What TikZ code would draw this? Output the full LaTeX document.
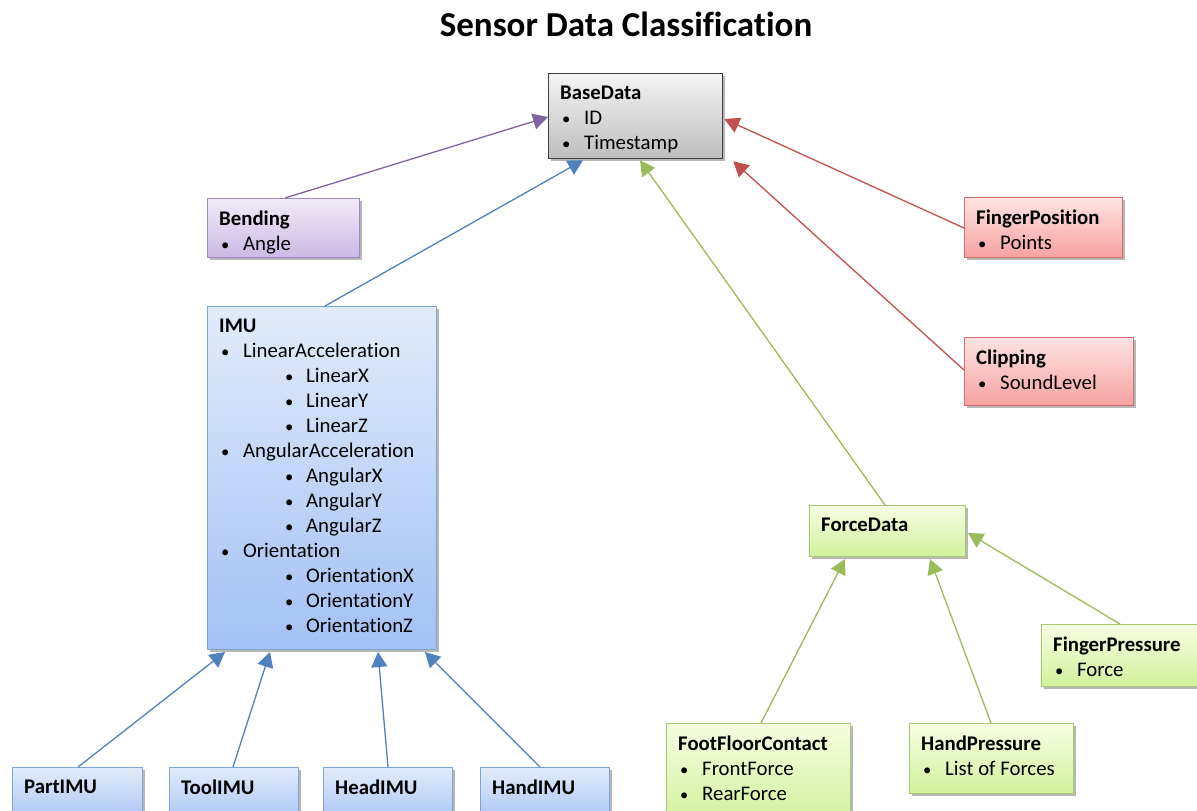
\documentclass[tikz,border=0pt]{standalone}
\usepackage{fontspec}
\usepackage{graphicx}
\setmainfont[Ligatures=NoCommon]{Carlito}
\usetikzlibrary{arrows.meta,shadows}
\definecolor{bline}{HTML}{4F81BD}
\definecolor{btop}{HTML}{E2EBFA}
\definecolor{bbot}{HTML}{A2C1F5}
\definecolor{bdraw}{HTML}{7EA4D6}
\definecolor{pline}{HTML}{8064A2}
\definecolor{ptop}{HTML}{F1EBF8}
\definecolor{pbot}{HTML}{CBB9E4}
\definecolor{pdraw}{HTML}{A088C2}
\definecolor{rline}{HTML}{C0504D}
\definecolor{rtop}{HTML}{FFE3E3}
\definecolor{rbot}{HTML}{F5A3A1}
\definecolor{rdraw}{HTML}{D26E6C}
\definecolor{gline}{HTML}{9BBB59}
\definecolor{gtop}{HTML}{F6FDE2}
\definecolor{gbot}{HTML}{D2F19C}
\definecolor{gdraw}{HTML}{A9C971}
\definecolor{ktop}{HTML}{F4F4F4}
\definecolor{kbot}{HTML}{BEBEBE}
\definecolor{kdraw}{HTML}{3F3F3F}
\newcommand\smbul{\raisebox{0.5pt}{\scalebox{0.8}{\textbullet}}}
\newcommand\bl{\hspace{2pt}\makebox[22pt][l]{\smbul}}
\newcommand\sbl{\hspace{66pt}\makebox[21pt][l]{\smbul}}
\begin{document}
\begin{tikzpicture}[x=1pt,y=-1pt,
  box/.style={rectangle, inner sep=0pt, anchor=north west, line width=1pt,
    drop shadow={shadow xshift=2pt, shadow yshift=-2.5pt, opacity=0.4, fill=black!70}},
  kbox/.style={box, top color=ktop, bottom color=kbot, draw=kdraw, line width=1.3pt},
  bbox/.style={box, top color=btop, bottom color=bbot, draw=bdraw},
  pbox/.style={box, top color=ptop, bottom color=pbot, draw=pdraw},
  rbox/.style={box, top color=rtop, bottom color=rbot, draw=rdraw},
  gbox/.style={box, top color=gtop, bottom color=gbot, draw=gdraw},
  txt/.style={anchor=north west, inner sep=0pt, align=left, font=\fontsize{20.8}{25}\selectfont},
  conn/.style={line width=1.3pt, -{Triangle[length=15pt,width=16pt]}},
]
\useasboundingbox (0,0) rectangle (1197,811);
\node[font=\fontsize{35}{40}\selectfont\bfseries] (title) at (626,24) {Sensor Data Classification};

% boxes
\node[kbox, minimum width=174pt, minimum height=85pt] (base) at (548,73) {};
\node[pbox, minimum width=152pt, minimum height=59pt] (bend) at (207,198) {};
\node[rbox, minimum width=158pt, minimum height=60pt] (fpos) at (964,197) {};
\node[rbox, minimum width=169pt, minimum height=68pt] (clip) at (964,337) {};
\node[bbox, minimum width=229pt, minimum height=343pt] (imu) at (207,306) {};
\node[gbox, minimum width=156pt, minimum height=51pt] (force) at (809,505) {};
\node[gbox, minimum width=162pt, minimum height=62pt] (fpress) at (1041,624) {};
\node[gbox, minimum width=184pt, minimum height=100pt] (foot) at (666,723) {};
\node[gbox, minimum width=164pt, minimum height=70pt] (hpress) at (909,723) {};
\node[bbox, minimum width=130pt, minimum height=60pt] (part) at (12,767) {};
\node[bbox, minimum width=129pt, minimum height=60pt] (tool) at (169,767) {};
\node[bbox, minimum width=129pt, minimum height=60pt] (head) at (323,767) {};
\node[bbox, minimum width=129pt, minimum height=60pt] (hand) at (480,767) {};

% texts
\node[txt] (tbase) at ([xshift=12pt,yshift=-13pt]base.north west) {\textbf{BaseData}\\\bl ID\\\bl Timestamp};
\node[txt] (tbend) at ([xshift=12pt,yshift=-13pt]bend.north west) {\textbf{Bending}\\\bl Angle};
\node[txt] (tfpos) at ([xshift=12pt,yshift=-13pt]fpos.north west) {\textbf{FingerPosition}\\\bl Points};
\node[txt] (tclip) at ([xshift=12pt,yshift=-13pt]clip.north west) {\textbf{Clipping}\\\bl SoundLevel};
\node[txt] (timu) at ([xshift=12pt,yshift=-13pt]imu.north west) {\textbf{IMU}\\\bl LinearAcceleration\\\sbl LinearX\\\sbl LinearY\\\sbl LinearZ\\\bl AngularAcceleration\\\sbl AngularX\\\sbl AngularY\\\sbl AngularZ\\\bl Orientation\\\sbl OrientationX\\\sbl OrientationY\\\sbl OrientationZ};
\node[txt] (tforce) at ([xshift=12pt,yshift=-13pt]force.north west) {\textbf{ForceData}};
\node[txt] (tfpress) at ([xshift=12pt,yshift=-13pt]fpress.north west) {\textbf{FingerPressure}\\\bl Force};
\node[txt] (tfoot) at ([xshift=12pt,yshift=-13pt]foot.north west) {\textbf{FootFloorContact}\\\bl FrontForce\\\bl RearForce};
\node[txt] (thpress) at ([xshift=12pt,yshift=-13pt]hpress.north west) {\textbf{HandPressure}\\\bl List of Forces};
\node[txt] (tpart) at ([xshift=12pt,yshift=-13pt]part.north west) {\textbf{PartIMU}};
\node[txt] (ttool) at ([xshift=12pt,yshift=-13pt]tool.north west) {\textbf{ToolIMU}};
\node[txt] (thead) at ([xshift=12pt,yshift=-13pt]head.north west) {\textbf{HeadIMU}};
\node[txt] (thand) at ([xshift=12pt,yshift=-13pt]hand.north west) {\textbf{HandIMU}};

% connectors
\draw[conn, pline] ([xshift=78pt]bend.north west) -- ([yshift=-44pt]base.north west);
\draw[conn, bline] ([xshift=118pt]imu.north west) -- ([xshift=35pt,yshift=-1pt]base.south west);
\draw[conn, gline] ([xshift=76pt]force.north west) -- ([xshift=92pt,yshift=-1pt]base.south west);
\draw[conn, rline] ([yshift=-31pt]fpos.north west) -- ([yshift=-46pt,xshift=1pt]base.north east);
\draw[conn, rline] ([yshift=-33pt]clip.north west) -- ([xshift=10pt,yshift=-2pt]base.south east);

\draw[conn, bline] ([xshift=66pt]part.north west) -- ([xshift=18pt,yshift=-2pt]imu.south west);
\draw[conn, bline] ([xshift=64pt]tool.north west) -- ([xshift=63pt,yshift=-2pt]imu.south west);
\draw[conn, bline] ([xshift=65pt]head.north west) -- ([xshift=171pt,yshift=-2pt]imu.south west);
\draw[conn, bline] ([xshift=60pt]hand.north west) -- ([xshift=218pt,yshift=-2pt]imu.south west);

\draw[conn, gline] ([xshift=95pt]foot.north west) -- ([xshift=36pt,yshift=-2pt]force.south west);
\draw[conn, gline] ([xshift=82pt]hpress.north west) -- ([xshift=121pt,yshift=-2pt]force.south west);
\draw[conn, gline] ([xshift=79pt]fpress.north west) -- ([xshift=2pt,yshift=-28pt]force.north east);
\end{tikzpicture}
\end{document}
